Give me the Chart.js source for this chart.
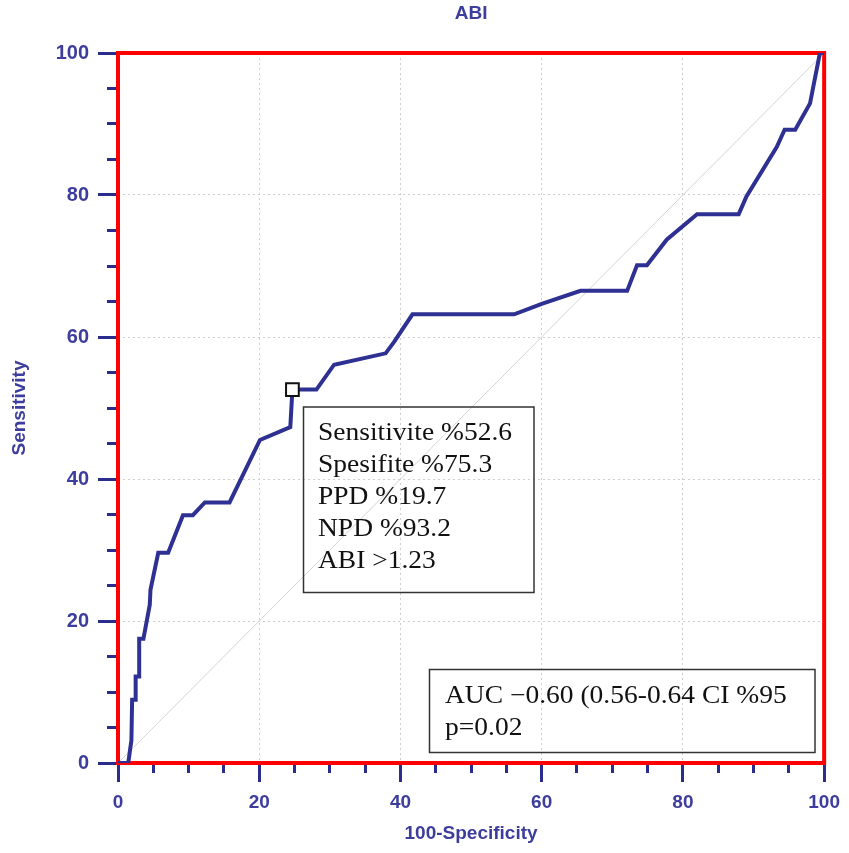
<!DOCTYPE html>
<html>
<head>
<meta charset="utf-8">
<script src="https://cdn.jsdelivr.net/npm/chart.js@4"></script>
<style>
  html, body { margin: 0; padding: 0; background: #ffffff; }
  #wrap { width: 849px; height: 853px; }
</style>
</head>
<body>
<div id="wrap"><canvas id="rocChart" width="849" height="853"></canvas></div>
<script>
// ROC curve for ABI (100-Specificity vs Sensitivity)
const rocFpr = [0, 1.45, 1.7, 1.9, 2.0, 2.5, 2.5, 3.0, 3.0, 3.6, 4.5, 4.6, 5.7, 7.1, 9.2, 10.6, 12.3, 15.8,
    20.1, 24.4, 24.7, 28.1, 30.6, 37.9, 39.1, 41.7, 56.1, 60.1, 65.5, 72.1, 73.5, 74.9, 77.7, 82.0, 87.9,
    89.0, 93.3, 94.4, 95.9, 98.0, 99.4, 100];
const rocTpr = [0, 0, 1.8, 3.2, 8.9, 8.9, 12.2, 12.2, 17.5, 17.5, 22.3, 24.4, 29.6, 29.6, 34.9, 34.9, 36.7, 36.7,
    45.5, 47.3, 52.6, 52.6, 56.1, 57.7, 59.3, 63.2, 63.2, 64.7, 66.5, 66.5, 70.1, 70.1, 73.7, 77.3, 77.3,
    79.8, 86.8, 89.2, 89.2, 92.9, 100, 100];
const diagX = [0, 100];
const diagY = [0, 100];
const cutoffX = [24.7];
const cutoffY = [52.6];

const cutoffLines = ['Sensitivite %52.6', 'Spesifite %75.3', 'PPD %19.7', 'NPD %93.2', 'ABI >1.23'];
const aucLines = ['AUC \u22120.60 (0.56-0.64 CI %95', 'p=0.02'];

const NAVY = '#2e3192';
const LABEL = '#3d3d9e';
const TICK = '#2a2d8c';
const SANS = '"Liberation Sans", Arial, sans-serif';

const toPts = (xs, ys) => xs.map((x, i) => ({ x: x, y: ys[i] }));

// red frame round the plot, under the curve
const framePlugin = {
    id: 'frame',
    beforeDatasetsDraw(chart) {
        const a = chart.chartArea, ctx = chart.ctx;
        ctx.save();
        ctx.strokeStyle = '#ff0000';
        ctx.lineWidth = 4;
        ctx.strokeRect(a.left, a.top, a.right - a.left, a.bottom - a.top);
        ctx.restore();
    }
};

// text boxes
const boxPlugin = {
    id: 'boxes',
    afterDraw(chart) {
        const ctx = chart.ctx;
        const drawBox = (l, t, r, b, lines, tx, ty) => {
            ctx.save();
            ctx.strokeStyle = '#333333';
            ctx.lineWidth = 1.5;
            ctx.strokeRect(l, t, r - l, b - t);
            ctx.fillStyle = '#111111';
            ctx.font = '25px "Liberation Serif", "Times New Roman", serif';
            ctx.textBaseline = 'alphabetic';
            lines.forEach((s, i) => {
                ctx.save();
                ctx.translate(tx, ty + i * 32);
                ctx.scale(1.1, 1);
                ctx.fillText(s, 0, 0);
                ctx.restore();
            });
            ctx.restore();
        };
        drawBox(303.5, 407, 534, 592.5, cutoffLines, 318, 440);
        drawBox(429.5, 669.5, 815, 752.5, aucLines, 445, 703);
    }
};

const majorGrid = (len) => ({
    color: '#cfcfcf',
    lineWidth: 1,
    tickLength: len,
    tickColor: TICK,
    tickWidth: 3,
    tickBorderDash: []
});

new Chart(document.getElementById('rocChart'), {
    type: 'line',
    data: {
        datasets: [
            {
                data: toPts(cutoffX, cutoffY),
                showLine: false,
                pointStyle: 'rect',
                pointRadius: 9,
                pointBackgroundColor: '#ffffff',
                pointBorderColor: '#111111',
                pointBorderWidth: 2
            },
            {
                data: toPts(rocFpr, rocTpr),
                borderColor: NAVY,
                borderWidth: 4,
                pointRadius: 0,
                tension: 0,
                fill: false
            },
            {
                data: toPts(diagX, diagY),
                borderColor: '#d4d4d4',
                borderWidth: 1,
                pointRadius: 0,
                fill: false
            }
        ]
    },
    options: {
        responsive: false,
        animation: false,
        events: [],
        layout: { padding: { left: 0, top: 0, right: 23, bottom: 0 } },
        plugins: {
            legend: { display: false },
            tooltip: { enabled: false },
            title: {
                display: true,
                text: 'ABI',
                fullSize: false,
                color: LABEL,
                font: { family: SANS, size: 19, weight: 'bold' },
                padding: { top: 2.5, bottom: 27.7 }
            }
        },
        scales: {
            x: {
                type: 'linear',
                position: 'bottom',
                min: 0, max: 100,
                weight: 0,
                ticks: { stepSize: 20, color: LABEL, padding: 9, maxRotation: 0,
                    font: { family: SANS, size: 19, weight: 'bold' } },
                grid: majorGrid(19),
                border: { display: false, dash: [2, 3] },
                title: { display: true, text: '100-Specificity', color: LABEL, padding: { top: 0, bottom: 8 },
                    font: { family: SANS, size: 19, weight: 'bold' } },
                afterFit: (s) => { s.height = 90; }
            },
            xMinor: {
                type: 'linear',
                position: 'bottom',
                min: 0, max: 100,
                weight: -1,
                ticks: { stepSize: 5, display: false },
                grid: { drawOnChartArea: false, tickLength: 10, tickColor: TICK, tickWidth: 3 },
                border: { display: false },
                afterFit: (s) => { s.height = 0; }
            },
            y: {
                type: 'linear',
                position: 'left',
                min: 0, max: 100,
                weight: 0,
                ticks: { stepSize: 20, color: LABEL, padding: 9,
                    font: { family: SANS, size: 20, weight: 'bold' } },
                grid: majorGrid(20),
                border: { display: false, dash: [2, 3] },
                title: { display: true, text: 'Sensitivity', color: LABEL, padding: { top: 8, bottom: 0 },
                    font: { family: SANS, size: 19, weight: 'bold' } },
                afterFit: (s) => { s.width = 118; }
            },
            yMinor: {
                type: 'linear',
                position: 'left',
                min: 0, max: 100,
                weight: -1,
                ticks: { stepSize: 5, display: false },
                grid: { drawOnChartArea: false, tickLength: 11, tickColor: TICK, tickWidth: 3 },
                border: { display: false },
                afterFit: (s) => { s.width = 0; }
            }
        }
    },
    plugins: [framePlugin, boxPlugin]
});
</script>
</body>
</html>
